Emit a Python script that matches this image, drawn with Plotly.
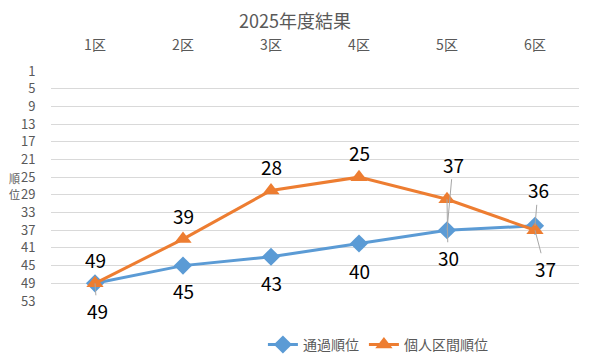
import plotly.graph_objects as go

categories = ["1区", "2区", "3区", "4区", "5区", "6区"]
tsuka = [49, 45, 43, 40, 37, 36]
kukan = [49, 39, 28, 25, 30, 37]
y_ticks = list(range(1, 54, 4))

FONT = "Noto Sans CJK JP"
GRAY = "#595959"
BLUE = "#5B9BD5"
ORANGE = "#ED7D31"

# label offsets in pixels (dx, dy, leader line)
blue_off = [(2, 27, True), (0, 25, False), (0, 26, False), (0, 27, False), (6, -66, True), (3, -36, True)]
orange_off = [(0, -24, False), (0, -24, False), (0, -24, False), (0, -25, False), (1, 58, True), (10, 38, True)]

fig = go.Figure()
fig.add_trace(go.Scatter(
    x=categories, y=tsuka, name="通過順位", mode="lines+markers",
    line=dict(color=BLUE, width=3),
    marker=dict(symbol="diamond", size=14, color=BLUE),
))
fig.add_trace(go.Scatter(
    x=categories, y=kukan, name="個人区間順位", mode="lines+markers",
    line=dict(color=ORANGE, width=3),
    marker=dict(symbol="triangle-up", size=15, color=ORANGE),
))

LBL = dict(family=FONT, size=19, color="#000000")
annotations = []
for vals, offs in ((tsuka, blue_off), (kukan, orange_off)):
    for c, v, (dx, dy, arrow) in zip(categories, vals, offs):
        if arrow:
            annotations.append(dict(
                x=c, y=v, xref="x", yref="y", text=str(v), showarrow=True,
                ax=dx, ay=dy, arrowhead=0, arrowwidth=1, arrowcolor="#A6A6A6",
                standoff=0, font=LBL,
            ))
        else:
            annotations.append(dict(
                x=c, y=v, xref="x", yref="y", text=str(v), showarrow=False,
                xshift=dx, yshift=-dy, font=LBL,
            ))

# vertical (stacked) y-axis title
annotations.append(dict(
    x=0, y=0.5, xref="paper", yref="paper", text="順", showarrow=False,
    xanchor="center", yanchor="middle", xshift=-37, yshift=8, borderpad=0,
    font=dict(family=FONT, size=11, color=GRAY),
))
annotations.append(dict(
    x=0, y=0.5, xref="paper", yref="paper", text="位", showarrow=False,
    xanchor="center", yanchor="middle", xshift=-37, yshift=-8, borderpad=0,
    font=dict(family=FONT, size=11, color=GRAY),
))

fig.update_layout(
    width=582, height=355,
    margin=dict(l=43, r=11, t=63, b=62),
    paper_bgcolor="white", plot_bgcolor="white",
    font=dict(family=FONT, color=GRAY, size=13),
    title=dict(text="2025年度結果", x=0.493, xanchor="center", y=0.9606, yanchor="middle",
               font=dict(family=FONT, size=18, color=GRAY)),
    showlegend=True,
    legend=dict(orientation="h", xref="container", yref="container",
                x=0.438, xanchor="left", y=0.051, yanchor="middle",
                font=dict(family=FONT, size=14, color=GRAY), itemwidth=30,
                bgcolor="rgba(0,0,0,0)"),
    annotations=annotations,
)
fig.update_xaxes(
    side="top", showgrid=False, zeroline=False, showline=False, automargin=False,
    ticks="outside", ticklen=14, tickcolor="rgba(0,0,0,0)",
    tickfont=dict(family=FONT, size=14, color=GRAY),
    range=[-0.5, 5.5],
)
fig.update_yaxes(
    range=[53, 1], tickvals=y_ticks, ticktext=[str(t) for t in y_ticks],
    showgrid=True, gridcolor="#D9D9D9", gridwidth=1, zeroline=False, showline=False,
    automargin=False,
    ticks="outside", ticklen=12, tickcolor="rgba(0,0,0,0)",
    tickfont=dict(family=FONT, size=13, color=GRAY),
)

fig.write_html("out.html")
